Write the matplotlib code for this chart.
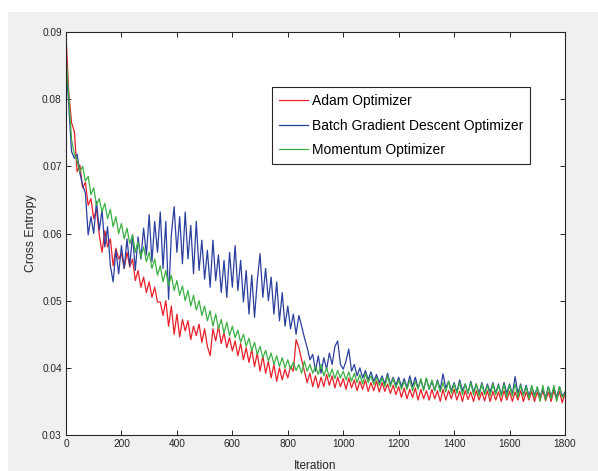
import numpy as np
import matplotlib
matplotlib.use("Agg")
import matplotlib.pyplot as plt
from matplotlib.patches import Rectangle

# --- Data (one value every 10 iterations) ---
ITER_START = 0
ITER_STOP = 1800
ITER_STEP = 10

adam = [
    0.0895, 0.0810, 0.0765, 0.0752, 0.0692, 0.0702, 0.0668, 0.0676, 0.0642, 0.0652,
    0.0622, 0.0636, 0.0598, 0.0572, 0.0604, 0.0580, 0.0592, 0.0552, 0.0578, 0.0562,
    0.0570, 0.0548, 0.0572, 0.0550, 0.0562, 0.0530, 0.0545, 0.0520, 0.0535, 0.0512,
    0.0528, 0.0505, 0.0520, 0.0498, 0.0498, 0.0478, 0.0500, 0.0462, 0.0492, 0.0450,
    0.0480, 0.0446, 0.0472, 0.0455, 0.0470, 0.0442, 0.0462, 0.0448, 0.0465, 0.0438,
    0.0458, 0.0432, 0.0418, 0.0458, 0.0440, 0.0462, 0.0436, 0.0452, 0.0430, 0.0445,
    0.0425, 0.0440, 0.0418, 0.0436, 0.0412, 0.0430, 0.0408, 0.0428, 0.0402, 0.0422,
    0.0395, 0.0418, 0.0392, 0.0410, 0.0385, 0.0405, 0.0380, 0.0400, 0.0382, 0.0398,
    0.0385, 0.0402, 0.0395, 0.0442, 0.0430, 0.0412, 0.0395, 0.0378, 0.0392, 0.0372,
    0.0388, 0.0370, 0.0386, 0.0372, 0.0390, 0.0374, 0.0388, 0.0370, 0.0386, 0.0372,
    0.0384, 0.0368, 0.0385, 0.0370, 0.0382, 0.0366, 0.0380, 0.0368, 0.0382, 0.0365,
    0.0378, 0.0366, 0.0380, 0.0364, 0.0378, 0.0365, 0.0376, 0.0362, 0.0374, 0.0360,
    0.0372, 0.0356, 0.0370, 0.0354, 0.0368, 0.0356, 0.0370, 0.0352, 0.0368, 0.0354,
    0.0366, 0.0352, 0.0368, 0.0354, 0.0366, 0.0350, 0.0368, 0.0352, 0.0366, 0.0354,
    0.0368, 0.0352, 0.0365, 0.0350, 0.0366, 0.0353, 0.0364, 0.0350, 0.0366, 0.0352,
    0.0364, 0.0351, 0.0366, 0.0350, 0.0365, 0.0352, 0.0364, 0.0350, 0.0366, 0.0352,
    0.0365, 0.0350, 0.0364, 0.0352, 0.0366, 0.0350, 0.0364, 0.0352, 0.0365, 0.0350,
    0.0364, 0.0352, 0.0366, 0.0351, 0.0364, 0.0350, 0.0366, 0.0352, 0.0365, 0.0348,
    0.0362,
]

batch_gd = [
    0.0855, 0.0790, 0.0722, 0.0712, 0.0718, 0.0690, 0.0672, 0.0660, 0.0598, 0.0625,
    0.0600, 0.0648, 0.0605, 0.0635, 0.0580, 0.0610, 0.0552, 0.0528, 0.0575, 0.0540,
    0.0582, 0.0548, 0.0592, 0.0552, 0.0598, 0.0545, 0.0595, 0.0562, 0.0608, 0.0568,
    0.0628, 0.0558, 0.0618, 0.0572, 0.0632, 0.0548, 0.0618, 0.0502, 0.0598, 0.0640,
    0.0572, 0.0625, 0.0555, 0.0632, 0.0562, 0.0612, 0.0540, 0.0618, 0.0545, 0.0590,
    0.0532, 0.0575, 0.0520, 0.0590, 0.0530, 0.0568, 0.0512, 0.0560, 0.0505, 0.0572,
    0.0520, 0.0582, 0.0515, 0.0560, 0.0498, 0.0545, 0.0480, 0.0538, 0.0475, 0.0530,
    0.0570, 0.0505, 0.0548, 0.0500, 0.0535, 0.0480, 0.0528, 0.0470, 0.0512, 0.0462,
    0.0492, 0.0458, 0.0480, 0.0450, 0.0478, 0.0462, 0.0445, 0.0430, 0.0412, 0.0420,
    0.0395, 0.0418, 0.0392, 0.0415, 0.0398, 0.0422, 0.0405, 0.0432, 0.0440, 0.0405,
    0.0398, 0.0410, 0.0428, 0.0395, 0.0405, 0.0388, 0.0400, 0.0385, 0.0396, 0.0382,
    0.0394, 0.0380, 0.0390, 0.0378, 0.0388, 0.0376, 0.0392, 0.0375, 0.0386, 0.0374,
    0.0386, 0.0372, 0.0384, 0.0370, 0.0388, 0.0372, 0.0386, 0.0370, 0.0382, 0.0368,
    0.0384, 0.0368, 0.0380, 0.0366, 0.0382, 0.0368, 0.0391, 0.0370, 0.0380, 0.0366,
    0.0378, 0.0364, 0.0382, 0.0366, 0.0376, 0.0362, 0.0380, 0.0364, 0.0376, 0.0362,
    0.0378, 0.0362, 0.0376, 0.0364, 0.0378, 0.0362, 0.0376, 0.0360, 0.0378, 0.0362,
    0.0376, 0.0360, 0.0387, 0.0362, 0.0376, 0.0360, 0.0374, 0.0358, 0.0372, 0.0360,
    0.0370, 0.0358, 0.0368, 0.0356, 0.0372, 0.0358, 0.0370, 0.0356, 0.0372, 0.0358,
    0.0364,
]

momentum = [
    0.0865, 0.0805, 0.0740, 0.0718, 0.0708, 0.0692, 0.0700, 0.0678, 0.0685, 0.0658,
    0.0668, 0.0642, 0.0652, 0.0632, 0.0645, 0.0622, 0.0636, 0.0610, 0.0625, 0.0600,
    0.0615, 0.0592, 0.0608, 0.0585, 0.0598, 0.0572, 0.0588, 0.0565, 0.0580, 0.0558,
    0.0572, 0.0548, 0.0562, 0.0538, 0.0552, 0.0528, 0.0545, 0.0522, 0.0538, 0.0515,
    0.0530, 0.0508, 0.0522, 0.0500, 0.0515, 0.0492, 0.0508, 0.0486, 0.0500, 0.0478,
    0.0492, 0.0470, 0.0485, 0.0462, 0.0480, 0.0458, 0.0472, 0.0452, 0.0468, 0.0448,
    0.0462, 0.0445, 0.0456, 0.0438, 0.0450, 0.0432, 0.0444, 0.0425, 0.0438, 0.0420,
    0.0432, 0.0415, 0.0426, 0.0410, 0.0422, 0.0405, 0.0418, 0.0402, 0.0415, 0.0400,
    0.0412, 0.0398, 0.0408, 0.0396, 0.0405, 0.0392, 0.0410, 0.0395, 0.0405, 0.0392,
    0.0402, 0.0390, 0.0405, 0.0388, 0.0400, 0.0386, 0.0398, 0.0384, 0.0396, 0.0385,
    0.0395, 0.0382, 0.0394, 0.0380, 0.0392, 0.0378, 0.0390, 0.0376, 0.0392, 0.0378,
    0.0388, 0.0375, 0.0386, 0.0374, 0.0385, 0.0372, 0.0388, 0.0372, 0.0384, 0.0370,
    0.0382, 0.0368, 0.0380, 0.0368, 0.0382, 0.0366, 0.0380, 0.0368, 0.0384, 0.0366,
    0.0385, 0.0368, 0.0382, 0.0366, 0.0380, 0.0364, 0.0378, 0.0364, 0.0380, 0.0362,
    0.0376, 0.0362, 0.0378, 0.0360, 0.0376, 0.0362, 0.0378, 0.0360, 0.0376, 0.0358,
    0.0376, 0.0360, 0.0374, 0.0358, 0.0376, 0.0360, 0.0374, 0.0358, 0.0375, 0.0356,
    0.0374, 0.0358, 0.0376, 0.0356, 0.0374, 0.0358, 0.0372, 0.0354, 0.0374, 0.0356,
    0.0372, 0.0350, 0.0374, 0.0352, 0.0372, 0.0354, 0.0374, 0.0350, 0.0372, 0.0356,
    0.0362,
]

labels = ["Adam Optimizer", "Batch Gradient Descent Optimizer", "Momentum Optimizer"]
colors = ["#e8202a", "#2b3f9e", "#3cb043"]

x_ticks = [0, 200, 400, 600, 800, 1000, 1200, 1400, 1600, 1800]
y_ticks = [0.03, 0.04, 0.05, 0.06, 0.07, 0.08, 0.09]

# --- Figure ---
plt.rcParams["font.family"] = ["Liberation Sans", "DejaVu Sans"]
W, H = 598, 471
fig = plt.figure(figsize=(W / 100, H / 100), dpi=100, facecolor="white")

# grey MATLAB-like window background (white strip on top and left)
bg = Rectangle((8 / W, 0), 1, (H - 12) / H, transform=fig.transFigure,
               facecolor="#f0f0f0", edgecolor="none", zorder=-10)
fig.add_artist(bg)

ax = fig.add_axes([66 / W, (H - 435) / H, (565 - 66) / W, (435 - 32) / H])
ax.set_facecolor("white")

iters = np.arange(ITER_START, ITER_STOP + 1, ITER_STEP)
for series, lab, col in zip([adam, batch_gd, momentum], labels, colors):
    ax.plot(iters, series, color=col, lw=0.9, label=lab)

ax.set_xlim(0, 1800)
ax.set_ylim(0.03, 0.09)
ax.set_xticks(x_ticks)
ax.set_yticks(y_ticks)
ax.set_xticklabels([str(t) for t in x_ticks])
ax.set_yticklabels([f"{t:.2f}" for t in y_ticks])
ax.tick_params(direction="in", length=3.5, width=0.7, top=True, right=True,
               labelsize=7.3, colors="#262626", pad=3)
for sp in ax.spines.values():
    sp.set_color("#262626")
    sp.set_linewidth(0.8)

ax.set_xlabel("Iteration", fontsize=8.5, color="#262626", labelpad=8)
ax.set_ylabel("Cross Entropy", fontsize=8.8, color="#262626", labelpad=4)

leg = ax.legend(loc="upper left", bbox_to_anchor=(0.413, 0.863), fontsize=10,
                frameon=True, fancybox=False, framealpha=1, edgecolor="#262626",
                handlelength=2.1, handletextpad=0.25, labelspacing=0.75,
                borderpad=0.5, borderaxespad=0)
leg.get_frame().set_linewidth(0.8)

fig.savefig("out.png", dpi=100, facecolor=fig.get_facecolor())
